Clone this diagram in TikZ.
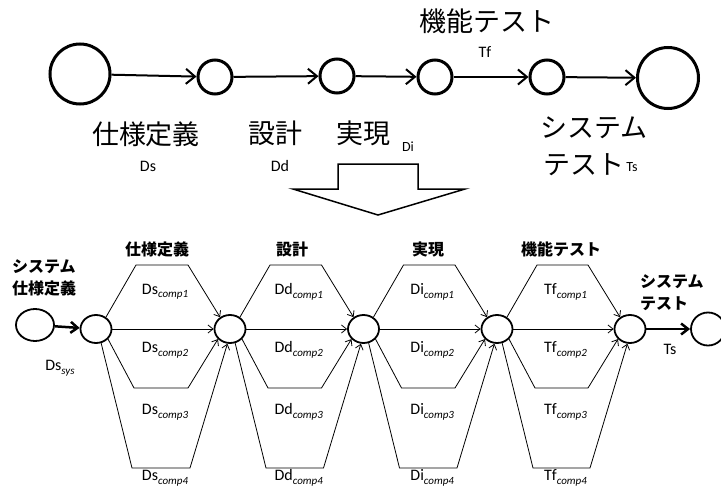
\documentclass[tikz,border=0pt]{standalone}
\usepackage{fontspec}
\setmainfont{Carlito}
\newfontfamily\jp{Noto Sans CJK JP}
\usetikzlibrary{arrows.meta,shapes.geometric}
\newcommand{\lowsub}[1]{\raisebox{-3.5pt}{\fontsize{11}{11}\selectfont\itshape #1}}
\begin{document}
\begin{tikzpicture}[x=1pt,y=-1pt,
  topc/.style={circle,draw,line width=3pt,minimum size=34pt,inner sep=0pt},
  bigc/.style={topc,minimum size=60pt},
  botc/.style={ellipse,draw,line width=1.8pt,minimum width=31pt,minimum height=28pt,inner sep=0pt},
  toparr/.style={line width=2pt,-{Straight Barb[length=9pt,width=15pt,line width=2pt]}},
  flow/.style={line width=0.8pt,-{Straight Barb[length=5pt,width=8pt,line width=0.8pt]}},
  fat/.style={line width=2.5pt,-{Straight Barb[length=7pt,width=11pt,line width=2.5pt]}},
  biglab/.style={font=\jp\fontsize{27}{30}\selectfont,inner sep=0pt},
  lab/.style={font=\fontsize{16}{18}\selectfont,inner sep=0pt},
  blab/.style={font=\jp\bfseries\fontsize{16}{20}\selectfont,inner sep=0pt}
]
\useasboundingbox (0,0) rectangle (721,490);
% ---------- top chain ----------
\node[bigc] (t0) at (80,74) {};
\node[topc] (t1) at (215,77) {};
\node[topc] (t2) at (337,76) {};
\node[topc] (t3) at (435,77) {};
\node[topc] (t4) at (547,77) {};
\node[bigc,minimum size=61pt] (t5) at (668,78) {};
\draw[toparr] (t0) -- (t1);
\draw[toparr] (t1) -- (t2);
\draw[toparr] (t2) -- (t3);
\draw[toparr] (t3) -- (t4);
\draw[toparr] (t4) -- (t5);
\node[biglab] (l1) at (146,134) {仕様定義};
\node[biglab] (l2) at (275,133) {設計};
\node[biglab] (l3) at (363,133) {実現};
\node[biglab] (l4) at (487,21) {機能テスト};
\node[biglab] (l5) at (594,128) {システム};
\node[biglab,anchor=west] (l6) at (543,165) {テスト};
\node[lab] (a1) at (148,166) {Ds};
\node[lab] (a2) at (280,166) {Dd};
\node[lab,font=\fontsize{14}{16}\selectfont] (a3) at (408,147) {Di};
\node[lab] (a4) at (485,52) {Tf};
\node[lab,font=\fontsize{14}{16}\selectfont] (a5) at (632,167) {Ts};
% ---------- big down arrow ----------
\draw[line width=1.5pt,line join=miter] (338,164) -- (418,164) -- (418,189) -- (465,189)
  -- (378,215) -- (293,189) -- (338,189) -- cycle;
% ---------- bottom network ----------
\node[botc,minimum width=38pt,minimum height=32pt] (s0) at (35,325) {};
\node[botc] (c1) at (96,329) {};
\node[botc] (c2) at (230,329) {};
\node[botc] (c3) at (363.5,329) {};
\node[botc] (c4) at (497,329) {};
\node[botc] (c5) at (630,329) {};
\node[botc,minimum width=34pt,minimum height=33pt] (s6) at (708,329) {};
\draw[fat] (s0) -- (c1);
\draw[fat] (c5) -- (s6);
\foreach \a/\b/\xa/\xb/\nm in {c1/c2/96/230/Ds, c2/c3/230/363.5/Dd, c3/c4/363.5/497/Di, c4/c5/497/630/Tf}{
  \draw[flow] (\a.50) -- (\xa+40,265) -- (\xb-42,265) -- (\b.130);
  \draw[flow] (\a.east) -- (\b.west);
  \draw[flow] (\a.-40) -- (\xa+38,388) -- (\xb-42,388) -- (\b.-140);
  \draw[flow] (\a.-70) -- (\xa+36,468) -- (\xb-40,468) -- (\b.-100);
  \node[lab] at ({(\xa+\xb)/2+2},292) {\nm\lowsub{comp1}};
  \node[lab] at ({(\xa+\xb)/2+2},350) {\nm\lowsub{comp2}};
  \node[lab] at ({(\xa+\xb)/2+2},412) {\nm\lowsub{comp3}};
  \node[lab] at ({(\xa+\xb)/2+2},478) {\nm\lowsub{comp4}};
}
\node[blab] (h1) at (157,249) {仕様定義};
\node[blab] (h2) at (292,249) {設計};
\node[blab] (h3) at (428,249) {実現};
\node[blab] (h4) at (561,249) {機能テスト};
\node[blab,anchor=west] (h5) at (12,267) {システム};
\node[blab,anchor=west] (h6) at (12,288) {仕様定義};
\node[blab,anchor=west] (h7) at (640,282) {システム};
\node[blab,anchor=west] (h8) at (640,304) {テスト};
\node[lab] (d0) at (60,368) {Ds\lowsub{sys}};
\node[lab] (d6) at (670,349) {Ts};
\end{tikzpicture}
\end{document}
